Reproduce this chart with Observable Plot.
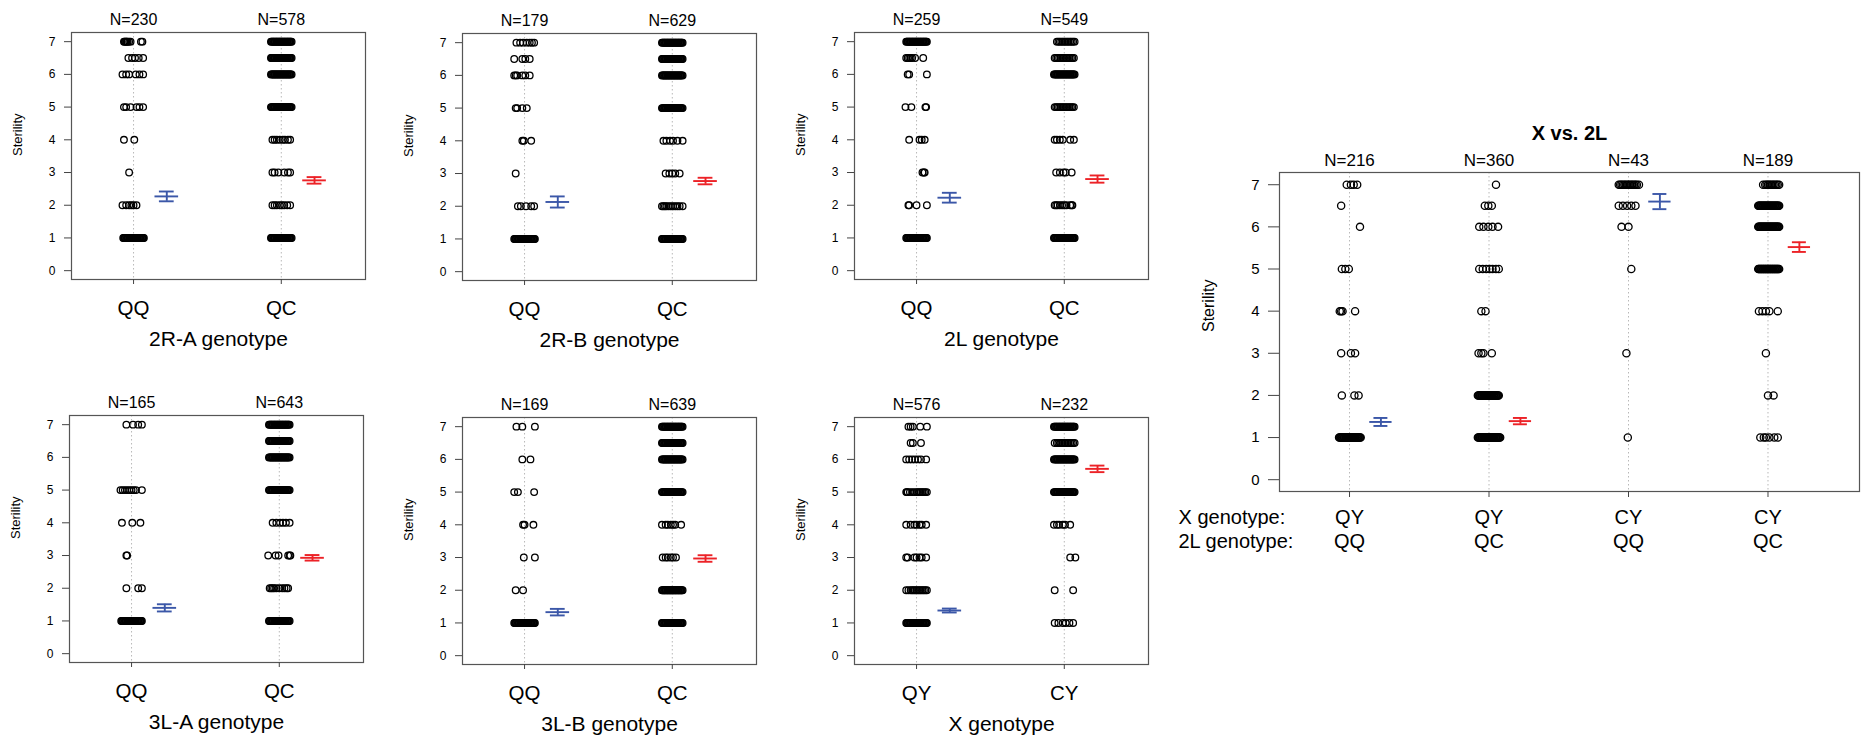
<!DOCTYPE html>
<html>
<head>
<meta charset="utf-8">
<script src="https://cdn.jsdelivr.net/npm/d3@7"></script>
<script src="https://cdn.jsdelivr.net/npm/@observablehq/plot@0.6"></script>
<style>
  html, body { margin: 0; padding: 0; background: #fff; }
  #wrap { position: relative; width: 1871px; height: 748px; overflow: hidden; background: #fff; }
  #wrap svg { position: absolute; }
</style>
</head>
<body>
<div id="wrap"></div>
<script>
// ---------------- DATA ----------------
const yTicks = [0, 1, 2, 3, 4, 5, 6, 7];

const smallTitles = ["2R-A genotype", "2R-B genotype", "2L genotype", "3L-A genotype", "3L-B genotype", "X genotype"];
const smallCats = [["QQ", "QC"], ["QQ", "QC"], ["QQ", "QC"], ["QQ", "QC"], ["QQ", "QC"], ["QY", "CY"]];
const smallN = [[230, 578], [179, 629], [259, 549], [165, 643], [169, 639], [576, 232]];
const smallMean = [[2.27, 2.76], [2.13, 2.77], [2.23, 2.80], [1.40, 2.93], [1.33, 2.97], [1.38, 5.71]];
const smallSE = [[0.15, 0.10], [0.17, 0.10], [0.15, 0.11], [0.11, 0.085], [0.10, 0.10], [0.06, 0.10]];

// jitter offsets of the circles (hundredths of one category step), keyed by sterility level
const R7 = "-7 -6.5 -6 -5.5 -5 -4.5 -4 -3.5 -3 -2.5 -2 -1.5 -1 -0.5 0 0.5 1 1.5 2 2.5 3 3.5 4 4.5 5 5.5 6 6.5 7";
const B8 = "-7 -6.5 -6 -5.5 -5 -4.5 -4 -3.5 -3 -2.5 -2 -1.5 -1 -0.5 0 0.5 1 1.5 2 2.5 3 3.5 4 4.5 5 5.5 6 6.5 7 7.5 8";
const smallPoints = [
  [ // 2R-A
    {"7": "-6.5 -6 -5.5 -5 -4.5 -4 -3 -2 5 6", "6.5": "-3.5 -1 1 3.5 6.5", "6": "-7.5 -5 -3 1.5 4 6.5",
     "5": "-6.5 -5 -2 2 4 6.5", "4": "-6.5 0.5", "3": "-3", "2": "-7.5 -5 -3 -1.5 0 2", "1": R7},
    {"7": R7, "6.5": R7, "6": R7, "5": R7, "4": "-6 -4.5 -3 -1 1 2.5 4.5 6", "3": "-6 -4.5 -2 2 4.5 6",
     "2": "-6 -4.5 -3 -1 0.5 2 4 6", "1": R7}
  ],
  [ // 2R-B
    {"7": "-5.5 -3 -1 1.5 3.5 5 6.5", "6.5": "-7 -1.5 0.5 3.5", "6": "-7 -6 -5 -1.5 0.5 3.5", "5": "-6 -5 -1.5 1.5",
     "4": "-1.5 -0.5 4.5", "3": "-6", "2": "-4.5 -2.5 1 4.5 6.5", "1": R7},
    {"7": R7, "6.5": R7, "6": R7, "5": R7, "4": "-6 -4 -1.5 0.5 3.5 7", "3": "-4.5 -2 0 2 5",
     "2": "-7 -6 -5 -4 -2.5 -1 0.5 2 3.5 5 7", "1": R7}
  ],
  [ // 2L
    {"7": R7, "6.5": "-7 -6 -5 -4 -3 -1 4.5", "6": "-6 -5 7", "5": "-7.5 -3.5 6 6.5", "4": "-5 2 3.5 5.5",
     "3": "4 5 5.5", "2": "-5.5 -5 0 7", "1": R7},
    {"7": "-5 -4 -3 -2 -1 0 1 2 3 4 5 6 7", "6.5": "-6.5 -5.5 -4.5 -3.5 -2.5 -1.5 -0.5 0.5 1.5 2.5 3.5 4.5 5.5 6.5",
     "6": R7, "5": "-6.5 -5.5 -4.5 -3.5 -2.5 -1.5 -0.5 0.5 1.5 2.5 3.5 4.5 5.5 6.5", "4": "-6.5 -5 -3 -1 4 6.5",
     "3": "-5.5 -3 -0.5 1 5", "2": "-6.5 -5.5 -4.5 -3 -1.5 0 1.5 4 5 5.5", "1": R7}
  ],
  [ // 3L-A
    {"7": "-3.5 1 4.5 7", "5": "-7.5 -6 -4.5 -3 -1.5 0 1.5 3 7", "4": "-6.5 0.5 6", "3": "-3.5 -3",
     "2": "-3.5 4.5 7", "1": R7},
    {"7": R7, "6.5": R7, "6": R7, "5": R7, "4": "-4.5 -2 0.5 2.5 4.5 7", "3": "-7.5 -2.5 -0.5 6 7 7.5",
     "2": "-6.5 -5.5 -4.5 -3.5 -2 0 2 3.5 5 6", "1": R7}
  ],
  [ // 3L-B
    {"7": "-5.5 -1.5 7", "6": "-1.5 4", "5": "-7 -4.5 6.5", "4": "-1 0 6", "3": "-0.5 7", "2": "-6 -1", "1": R7},
    {"7": R7, "6.5": R7, "6": R7, "5": R7, "4": "-7 -4.5 -3 -1 0.5 2 6", "3": "-6.5 -4.5 -3 -1 0.5 2.5",
     "2": R7, "1": R7}
  ],
  [ // X
    {"7": "-5.5 -4 -2.5 2.5 7", "6.5": "-4 -2.5 3", "6": "-7 -5 -3 -1 1 3 6.5",
     "5": "-7 -6.5 -6 -4.5 -3 -1.5 0 1 2 3 4 5 6 7", "4": "-7 -4 -1.5 0 2 3.5 6.5", "3": "-7 -6 -1.5 0 2 3.5 6.5",
     "2": "-7 -5.5 -4 -3 -2 -1 0 1 2 3 4 5 6 7", "1": R7},
    {"7": R7, "6.5": "-6.5 -5 -4 -3 -2 -1 0 1 2 3 4 5 6 7", "6": R7, "5": R7, "4": "-7 -5 -3.5 -1 0.5 4",
     "3": "4 7.5", "2": "-6.5 6", "1": "-6.5 -4 -1 1 3.5 6"}
  ]
];

const bigTitle = "X vs. 2L";
const bigXGeno = ["QY", "QY", "CY", "CY"];
const big2LGeno = ["QQ", "QC", "QQ", "QC"];
const bigN = [216, 360, 43, 189];
const bigMean = [1.37, 1.39, 6.60, 5.52];
const bigSE = [0.095, 0.075, 0.18, 0.115];
const bigPoints = [
  {"7": "-2 1 3 5.5", "6.5": "-6", "6": "7.5", "5": "-5.5 -3 -0.5", "4": "-7 -6 -5 4", "3": "-6 1 4",
   "2": "-5.5 3.5 6.5", "1": "-7.5 " + B8},
  {"7": "5", "6.5": "-3 -0.5 2", "6": "-7 -4 -0.5 2.5 6.5", "5": "-7 -4.5 -2 0.5 2.5 5 7", "4": "-5.5 -2.5",
   "3": "-7.5 -5.5 -4 2", "2": "-8 -7.5 " + R7,
   "1": "-8 -7.5 " + B8},
  {"7": "-7 -6 -5 -4 -3 -2 -1 0 1 2 3 4 5 6 7.5", "6.5": "-7 -4 -1 2 5", "6": "-5 0", "5": "2", "3": "-1.5", "1": "-0.5"},
  {"7": "-3.5 -2 -1 0 1 2 3 4 5 6 7 8", "6.5": B8, "6": B8, "5": B8,
   "4": "-6.5 -4 -1.5 1 7", "3": "-1.5", "2": "0 4", "1": "-5.5 -3 -1.5 1 4.5 7"}
];

// ---------------- STYLE / LAYOUT ----------------
const FONT = "'Liberation Sans', Arial, Helvetica, sans-serif";
const BLUE = "#3b57a8", RED = "#ec2227";
const wrap = document.getElementById("wrap");

function toDots(groups) {
  const out = [];
  groups.forEach((g, i) => {
    for (const [level, offs] of Object.entries(g)) {
      for (const o of offs.trim().split(/\s+/)) out.push({x: i + 1 + (+o) / 100, y: +level});
    }
  });
  return out;
}

function errorMarks(means, ses, colors) {
  const marks = [];
  means.forEach((m, i) => {
    const e = [{x: i + 1 + 0.225, m, lo: m - ses[i], hi: m + ses[i]}];
    const st = {stroke: colors[i], strokeWidth: 1.9};
    marks.push(Plot.ruleX(e, {x: "x", y1: "lo", y2: "hi", ...st}));
    marks.push(Plot.ruleY(e, {y: "lo", x1: d => d.x - 0.05, x2: d => d.x + 0.05, ...st}));
    marks.push(Plot.ruleY(e, {y: "hi", x1: d => d.x - 0.05, x2: d => d.x + 0.05, ...st}));
    marks.push(Plot.ruleY(e, {y: "m", x1: d => d.x - 0.08, x2: d => d.x + 0.08, ...st}));
  });
  return marks;
}

// small panels
const frameLeft = [71, 462, 854, 69, 462, 854];
const frameTop = [32, 33, 32, 415, 417, 417];
const ML = 65, MT = 32, MR = 25, MB = 75, FW = 294, FH = 247;

smallTitles.forEach((title, p) => {
  const cats = smallCats[p];
  const idx = cats.map((_, i) => i + 1);
  const chart = Plot.plot({
    width: ML + FW + MR, height: MT + FH + MB,
    marginLeft: ML, marginTop: MT, marginRight: MR, marginBottom: MB,
    x: {domain: [0.58, 2.57]},
    y: {domain: [-0.27, 7.28]},
    style: {fontFamily: FONT, background: "transparent", color: "black", maxWidth: "none", overflow: "visible"},
    marks: [
      Plot.ruleX(idx, {stroke: "#b8b8b8", strokeWidth: 1, strokeDasharray: "1.5,2.5"}),
      Plot.dot(toDots(smallPoints[p]), {x: "x", y: "y", r: 3.3, stroke: "black", strokeWidth: 1.3, fill: "none"}),
      ...errorMarks(smallMean[p], smallSE[p], [BLUE, RED]),
      Plot.frame({stroke: "#555", strokeWidth: 1.2}),
      Plot.axisY({ticks: yTicks, tickSize: 7, tickPadding: 9, fontSize: 12, label: null, stroke: "#444"}),
      Plot.axisX({ticks: idx, tickFormat: d => cats[d - 1], tickSize: 5, tickPadding: 16, fontSize: 20.5, label: null, stroke: "#444"}),
      Plot.text(idx, {x: d => d, text: d => "N=" + smallN[p][d - 1], frameAnchor: "top", lineAnchor: "bottom", dy: -8, fontSize: 16}),
      Plot.text([title], {frameAnchor: "bottom", lineAnchor: "bottom", dy: 66, fontSize: 21}),
      Plot.text(["Sterility"], {frameAnchor: "left", rotate: -90, dx: -54, lineAnchor: "middle", fontSize: 13})
    ]
  });
  chart.style.left = (frameLeft[p] - ML) + "px";
  chart.style.top = (frameTop[p] - MT) + "px";
  wrap.appendChild(chart);
});

// big panel
{
  const BL = 1160, BT = 90, bML = 119, bMT = 82, bFW = 580, bFH = 319, bMR = 12, bMB = 80;
  const idx = bigN.map((_, i) => i + 1);
  const colors = big2LGeno.map(g => g === "QQ" ? BLUE : RED);
  const chart = Plot.plot({
    width: bML + bFW + bMR, height: bMT + bFH + bMB,
    marginLeft: bML, marginTop: bMT, marginRight: bMR, marginBottom: bMB,
    x: {domain: [0.498, 4.656]},
    y: {domain: [-0.28, 7.29]},
    style: {fontFamily: FONT, background: "transparent", color: "black", maxWidth: "none", overflow: "visible"},
    marks: [
      Plot.ruleX(idx, {stroke: "#b8b8b8", strokeWidth: 1, strokeDasharray: "1.5,2.5"}),
      Plot.dot(toDots(bigPoints), {x: "x", y: "y", r: 3.6, stroke: "black", strokeWidth: 1.3, fill: "none"}),
      ...errorMarks(bigMean, bigSE, colors),
      Plot.frame({stroke: "#555", strokeWidth: 1.2}),
      Plot.axisY({ticks: yTicks, tickSize: 11, tickPadding: 9, fontSize: 15, label: null, stroke: "#444"}),
      Plot.axisX({ticks: idx, tickFormat: () => "", tickSize: 6, label: null, stroke: "#444"}),
      Plot.text(idx, {x: d => d, text: d => bigXGeno[d - 1], frameAnchor: "bottom", lineAnchor: "bottom", dy: 32, fontSize: 20}),
      Plot.text(idx, {x: d => d, text: d => big2LGeno[d - 1], frameAnchor: "bottom", lineAnchor: "bottom", dy: 56, fontSize: 20}),
      Plot.text(["X genotype:"], {frameAnchor: "bottom-left", textAnchor: "start", lineAnchor: "bottom", dx: -101, dy: 32, fontSize: 20}),
      Plot.text(["2L genotype:"], {frameAnchor: "bottom-left", textAnchor: "start", lineAnchor: "bottom", dx: -101, dy: 56, fontSize: 20}),
      Plot.text(idx, {x: d => d, text: d => "N=" + bigN[d - 1], frameAnchor: "top", lineAnchor: "bottom", dy: -7, fontSize: 17}),
      Plot.text([bigTitle], {frameAnchor: "top", lineAnchor: "bottom", dy: -33, fontSize: 20, fontWeight: "bold"}),
      Plot.text(["Sterility"], {frameAnchor: "left", rotate: -90, dx: -71, lineAnchor: "middle", fontSize: 16})
    ]
  });
  chart.style.left = BL + "px";
  chart.style.top = BT + "px";
  wrap.appendChild(chart);
}
</script>
</body>
</html>
